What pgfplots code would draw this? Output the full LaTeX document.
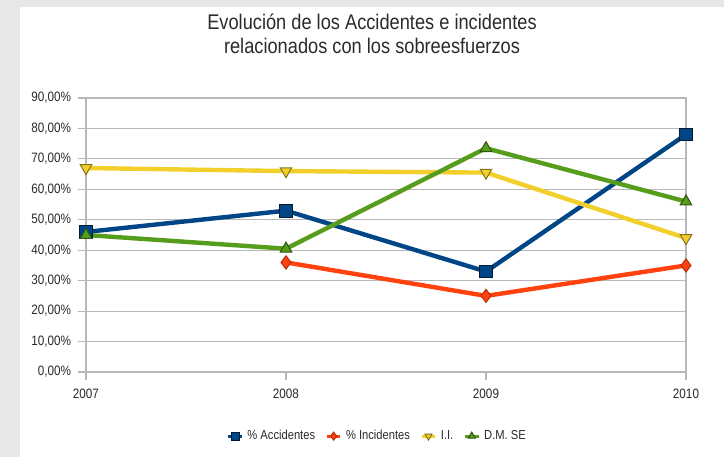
\documentclass[border=0pt]{standalone}
\usepackage{fontspec}
\setmainfont{Liberation Sans}[FakeStretch=0.86]
\usepackage{pgfplots}
\pgfplotsset{compat=1.18}
\definecolor{cblue}{HTML}{004586}
\definecolor{cred}{HTML}{FF420E}
\definecolor{cyel}{HTML}{F2CF2A}
\definecolor{cgreen}{HTML}{579D1C}
\definecolor{cgrid}{HTML}{B8B8B8}
\definecolor{ctext}{HTML}{2B2B2B}
\definecolor{cbg}{HTML}{E6E7E9}
\begin{document}
\begin{tikzpicture}
\path[use as bounding box, fill=cbg] (0,0) rectangle (362pt,228.5pt);
\fill[white] (10pt,0) rectangle (362pt,225pt);
\node[align=center, text=ctext, font=\fontsize{10.6}{12.2}\selectfont] at (186pt,211.5pt) {Evolución de los Accidentes e incidentes\\relacionados con los sobreesfuerzos};
\begin{axis}[
  at={(43pt,42.5pt)}, anchor=south west,
  scale only axis, width=300pt, height=137pt,
  xmin=0, xmax=3, ymin=0, ymax=90,
  xtick={0,1,2,3}, xticklabels={2007,2008,2009,2010},
  ytick={0,10,20,30,40,50,60,70,80,90},
  yticklabels={{0,00\%},{10,00\%},{20,00\%},{30,00\%},{40,00\%},{50,00\%},{60,00\%},{70,00\%},{80,00\%},{90,00\%}},
  tick align=outside, xtick pos=bottom, ytick pos=left,
  major tick length=4pt,
  tick style={cgrid, line width=0.6pt},
  ymajorgrids, grid style={cgrid, line width=0.6pt},
  axis line style={cgrid, line width=0.6pt},
  ticklabel style={text=ctext, font=\fontsize{6.8}{8}\selectfont},
  xticklabel style={yshift=-1pt},
  legend style={at={(0.487,-0.234)}, anchor=center, draw=none, fill=none, legend columns=4,
    font=\fontsize{6.5}{8}\selectfont, text=ctext,
    /tikz/every even column/.append style={column sep=3pt}},
  legend image code/.code={\draw[#1, line width=1.6pt, mark size=2pt, mark repeat=2, mark phase=2] plot coordinates {(0cm,0cm)(0.12cm,0cm)(0.24cm,0cm)};},
  every axis plot/.append style={line width=2.2pt},
]
\addplot[cblue, mark=square*, mark size=3.2pt, mark options={solid, line width=0.5pt, fill=cblue, draw=black!60!cblue}] coordinates {(0,46) (1,53) (2,33) (3,78)};
\addlegendentry{\% Accidentes}
\addplot[cred, mark=diamond*, mark size=3.3pt, mark options={solid, line width=0.5pt, fill=cred, draw=black!30!cred}] coordinates {(1,36) (2,25) (3,35)};
\addlegendentry{\% Incidentes}
\addplot[cyel, mark=triangle*, mark size=3.3pt, mark options={solid, line width=0.5pt, rotate=180, fill=cyel, draw=black!45!cyel}] coordinates {(0,67) (1,66) (2,65.5) (3,44)};
\addlegendentry{I.I.}
\addplot[cgreen, mark=triangle*, mark size=3.3pt, mark options={solid, line width=0.5pt, fill=cgreen, draw=black!45!cgreen}] coordinates {(0,45) (1,40.5) (2,73.5) (3,56)};
\addlegendentry{D.M. SE}
\end{axis}
\end{tikzpicture}
\end{document}
